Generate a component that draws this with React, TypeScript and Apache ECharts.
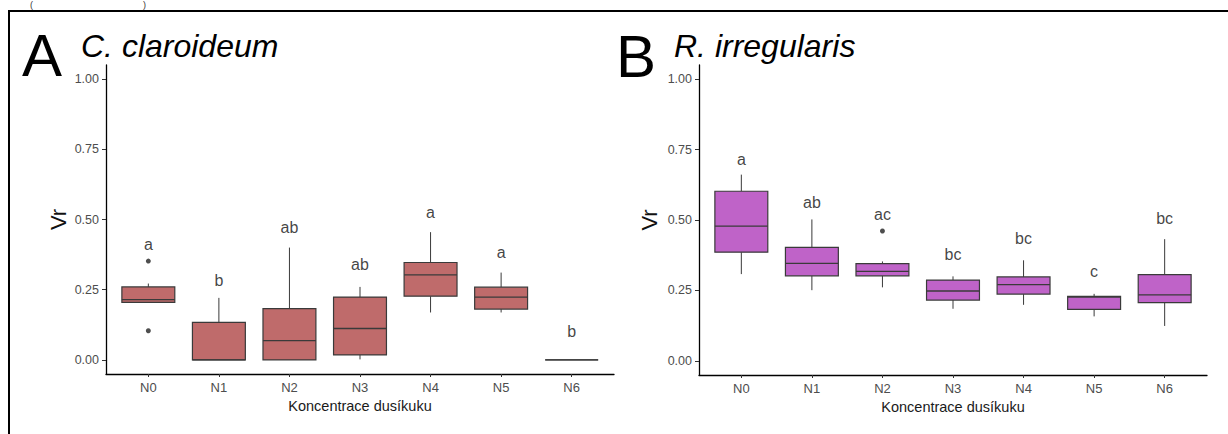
import React, { useEffect, useRef } from "react";
import * as echarts from "echarts";

const categories = ["N0", "N1", "N2", "N3", "N4", "N5", "N6"];
const yTicks = [0, 0.25, 0.5, 0.75, 1];
const yTickLabels = ["0.00", "0.25", "0.50", "0.75", "1.00"];

// [min, Q1, median, Q3, max]
const claroideumBoxes = [
  [0.205, 0.205, 0.215, 0.26, 0.272],
  [0, 0, 0, 0.134, 0.221],
  [0, 0, 0.069, 0.183, 0.4],
  [0.002, 0.018, 0.112, 0.224, 0.26],
  [0.169, 0.227, 0.303, 0.347, 0.455],
  [0.169, 0.181, 0.224, 0.259, 0.311],
  [0, 0, 0, 0, 0],
];
const claroideumOutliers = [
  [0, 0.352],
  [0, 0.104],
];
const claroideumLetters = ["a", "b", "ab", "ab", "a", "a", "b"];
const claroideumLetterY = [0.41, 0.284, 0.473, 0.34, 0.526, 0.384, 0.1];

const irregularisBoxes = [
  [0.308, 0.386, 0.478, 0.602, 0.661],
  [0.251, 0.302, 0.346, 0.403, 0.502],
  [0.261, 0.302, 0.318, 0.345, 0.353],
  [0.185, 0.216, 0.248, 0.287, 0.3],
  [0.199, 0.237, 0.271, 0.298, 0.357],
  [0.158, 0.183, 0.226, 0.229, 0.238],
  [0.124, 0.207, 0.234, 0.306, 0.432],
];
const irregularisOutliers = [[2, 0.461]];
const irregularisLetters = ["a", "ab", "ac", "bc", "bc", "c", "bc"];
const irregularisLetterY = [0.714, 0.561, 0.518, 0.377, 0.436, 0.318, 0.504];

const FONT = "'Liberation Sans', Arial, sans-serif";
const BOX_STROKE = "#3a3a3a";

function makeXAxis(gridIndex: number) {
  return {
    type: "value",
    gridIndex,
    min: -0.6,
    max: 6.6,
    splitLine: { show: false },
    axisLine: { show: true, onZero: false, lineStyle: { color: "#000", width: 1.3 } },
    axisTick: { show: true, length: 3, customValues: [0, 1, 2, 3, 4, 5, 6], lineStyle: { color: "#333" } },
    axisLabel: {
      customValues: [0, 1, 2, 3, 4, 5, 6],
      formatter: (v: number) => categories[Math.round(v)] ?? "",
      color: "#4d4d4d",
      fontSize: 13,
      fontFamily: FONT,
      margin: 7,
    },
    name: "Koncentrace dusíkuku",
    nameLocation: "middle",
    nameGap: 24,
    nameTextStyle: { color: "#1a1a1a", fontSize: 14.5, fontFamily: FONT },
  };
}

function makeYAxis(gridIndex: number, nameGap: number) {
  return {
    type: "value",
    gridIndex,
    min: -0.05,
    max: 1.05,
    splitLine: { show: false },
    axisLine: { show: true, onZero: false, lineStyle: { color: "#000", width: 1.3 } },
    axisTick: { show: true, length: 4, customValues: yTicks, lineStyle: { color: "#333" } },
    axisLabel: {
      customValues: yTicks,
      formatter: (v: number) => yTickLabels[yTicks.findIndex((t) => Math.abs(t - v) < 1e-6)] ?? "",
      color: "#4d4d4d",
      fontSize: 12.5,
      fontFamily: FONT,
      margin: 7,
    },
    name: "Vr",
    nameLocation: "middle",
    nameGap,
    nameTextStyle: { color: "#111", fontSize: 22, fontFamily: FONT },
  };
}

function boxSeries(idx: number, boxes: number[][], fill: string) {
  return {
    type: "custom",
    xAxisIndex: idx,
    yAxisIndex: idx,
    encode: { x: 0, y: [1, 2, 3, 4, 5] },
    data: boxes.map((b, i) => [i, ...b]),
    renderItem: (params: any, api: any) => {
      const x = api.value(0);
      const lo = api.coord([x, api.value(1)]);
      const q1 = api.coord([x, api.value(2)]);
      const md = api.coord([x, api.value(3)]);
      const q3 = api.coord([x, api.value(4)]);
      const hi = api.coord([x, api.value(5)]);
      const w = api.size([0.75, 0])[0];
      const lineStyle = { stroke: BOX_STROKE, lineWidth: 1 };
      return {
        type: "group",
        children: [
          { type: "line", shape: { x1: lo[0], y1: lo[1], x2: q1[0], y2: q1[1] }, style: lineStyle },
          { type: "line", shape: { x1: q3[0], y1: q3[1], x2: hi[0], y2: hi[1] }, style: lineStyle },
          {
            type: "rect",
            shape: { x: q3[0] - w / 2, y: q3[1], width: w, height: q1[1] - q3[1] },
            style: { fill, stroke: BOX_STROKE, lineWidth: 1.2 },
          },
          {
            type: "line",
            shape: { x1: md[0] - w / 2, y1: md[1], x2: md[0] + w / 2, y2: md[1] },
            style: { stroke: BOX_STROKE, lineWidth: 1.3 },
          },
        ],
      };
    },
  };
}

function outlierSeries(idx: number, pts: number[][]) {
  return {
    type: "scatter",
    xAxisIndex: idx,
    yAxisIndex: idx,
    symbolSize: 5,
    itemStyle: { color: "#222" },
    data: pts,
  };
}

function letterSeries(idx: number, letters: string[], ys: number[]) {
  return {
    type: "scatter",
    xAxisIndex: idx,
    yAxisIndex: idx,
    symbolSize: 1,
    itemStyle: { color: "rgba(0,0,0,0)" },
    label: {
      show: true,
      position: "inside",
      formatter: "{b}",
      color: "#111",
      fontSize: 16,
      fontFamily: FONT,
    },
    data: letters.map((l, i) => ({ name: l, value: [i, ys[i]] })),
  };
}

export default function App() {
  const ref = useRef<HTMLDivElement>(null);
  useEffect(() => {
    if (!ref.current) return;
    const chart = echarts.init(ref.current, null, { renderer: "svg" });
    chart.setOption({
      animation: false,
      backgroundColor: "#fff",
      textStyle: { fontFamily: FONT },
      grid: [
        { left: 106, top: 65, width: 508, height: 309 },
        { left: 699, top: 65, width: 508, height: 310 },
      ],
      xAxis: [makeXAxis(0), makeXAxis(1)],
      yAxis: [makeYAxis(0, 37), makeYAxis(1, 39)],
      series: [
        boxSeries(0, claroideumBoxes, "#bf6b6b"),
        outlierSeries(0, claroideumOutliers),
        letterSeries(0, claroideumLetters, claroideumLetterY),
        boxSeries(1, irregularisBoxes, "#bf63c8"),
        outlierSeries(1, irregularisOutliers),
        letterSeries(1, irregularisLetters, irregularisLetterY),
      ],
      graphic: [
        { type: "line", shape: { x1: 8, y1: 11, x2: 1228, y2: 11 }, style: { stroke: "#000", lineWidth: 2 } },
        { type: "line", shape: { x1: 9, y1: 10, x2: 9, y2: 434 }, style: { stroke: "#000", lineWidth: 2 } },
        { type: "text", x: 30, y: 0, style: { text: "(", font: `9px ${FONT}`, fill: "#333", verticalAlign: "top" } },
        { type: "text", x: 143, y: 0, style: { text: ")", font: `9px ${FONT}`, fill: "#333", verticalAlign: "top" } },
        { type: "text", x: 22, y: 55, style: { text: "A", font: `60px ${FONT}`, fill: "#000", verticalAlign: "middle" } },
        { type: "text", x: 81, y: 46, style: { text: "C. claroideum", font: `italic 32px ${FONT}`, fill: "#000", verticalAlign: "middle" } },
        { type: "text", x: 616, y: 56, style: { text: "B", font: `60px ${FONT}`, fill: "#000", verticalAlign: "middle" } },
        { type: "text", x: 674, y: 45.5, style: { text: "R. irregularis", font: `italic 32px ${FONT}`, fill: "#000", verticalAlign: "middle" } },
      ],
    });
    return () => chart.dispose();
  }, []);
  return (
    <div
      ref={ref}
      style={{ position: "fixed", left: 0, top: 0, width: 1228, height: 434 }}
    />
  );
}
